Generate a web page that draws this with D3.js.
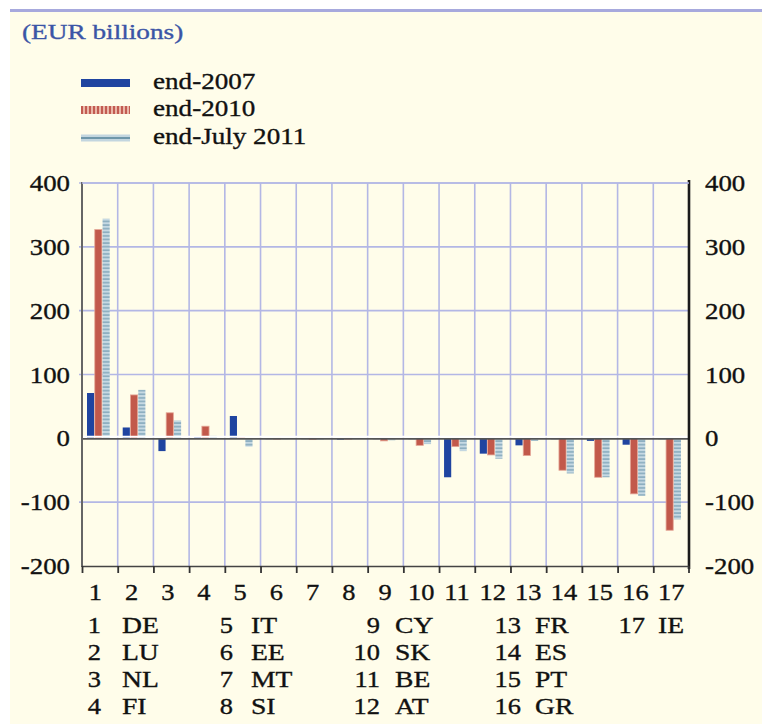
<!DOCTYPE html>
<html><head><meta charset="utf-8">
<script src="https://cdn.jsdelivr.net/npm/d3@7"></script>
<style>html,body{margin:0;padding:0;background:#fff;}svg{display:block;}</style>
</head><body>
<svg id="c" width="762" height="724"></svg>
<script>
const categories = ["1","2","3","4","5","6","7","8","9","10","11","12","13","14","15","16","17"];
const countries = ["DE","LU","NL","FI","IT","EE","MT","SI","CY","SK","BE","AT","FR","ES","PT","GR","IE"];
const seriesNames = ["end-2007","end-2010","end-July 2011"];
const v2007 = [71, 17, -20, 2, 35, -1, -1, -2, -1, -1, -61, -24, -11, -1, -4, -10, 0];
const v2010 = [327, 68, 40, 19, 1, -1, -2, -1, -4, -11, -13, -26, -27, -50, -61, -87, -144];
const v2011 = [344, 76, 28, 4, -13, -1, -2, -1, -3, -9, -20, -32, -4, -55, -61, -90, -127];
const yTicks = [400, 300, 200, 100, 0, -100, -200];

const svg = d3.select("#c");
const FONT = "'Liberation Serif','Times New Roman',serif";
const SX = 1.15;

const defs = svg.append("defs");
const pRed = defs.append("pattern").attr("id","pRed").attr("patternUnits","userSpaceOnUse").attr("width",4).attr("height",4);
pRed.append("rect").attr("width",4).attr("height",4).attr("fill","#eab8a8");
pRed.append("rect").attr("x",1.2).attr("width",1.6).attr("height",4).attr("fill","#b8443c");
const pBlue = defs.append("pattern").attr("id","pBlue").attr("patternUnits","userSpaceOnUse").attr("width",4).attr("height",3.6);
pBlue.append("rect").attr("width",4).attr("height",3.6).attr("fill","#c6d9e3");
pBlue.append("rect").attr("y",1.3).attr("width",4).attr("height",1.1).attr("fill","#6e98ae");

// background
svg.append("rect").attr("x",10).attr("y",11).attr("width",752).attr("height",713).attr("fill","#fffdea");
svg.append("line").attr("x1",10).attr("x2",762).attr("y1",10.5).attr("y2",10.5).attr("stroke","#a7a9dd").attr("stroke-width",3);

function txt(g, x, y, s, size, anchor, color, sx) {
  const c = color || "#111";
  return g.append("text").attr("transform",`translate(${x},${y}) scale(${sx||SX},1)`)
    .attr("text-anchor",anchor||"start").attr("font-family",FONT).attr("font-size",size)
    .attr("fill",c).attr("stroke",c).attr("stroke-width",0.35).text(s);
}

txt(svg, 22, 39, "(EUR billions)", 22, "start", "#3b55a6", 1.24);

// legend
const lg = svg.append("g");
const legY = [83, 110, 138];
lg.append("rect").attr("x",81).attr("y",legY[0]-4).attr("width",49).attr("height",8).attr("fill","#1f44a0");
lg.append("rect").attr("x",81).attr("y",legY[1]-4).attr("width",49).attr("height",8).attr("fill","url(#pRed)");
lg.append("rect").attr("x",81).attr("y",legY[2]-3.5).attr("width",49).attr("height",7).attr("fill","#c3d6df");
lg.append("rect").attr("x",81).attr("y",legY[2]-1).attr("width",49).attr("height",2).attr("fill","#6f97aa");
seriesNames.forEach((n,i)=>txt(lg, 153, legY[i]+6, n, 24, "start", "#111", 1.13));

// scales
const x = d3.scaleBand().domain(categories).range([82, 689]).padding(0);
const x1 = d3.scaleBand().domain(seriesNames).range([5, x.bandwidth()-8]).paddingInner(0.08);
const y = d3.scaleLinear().domain([-200, 400]).range([566, 183]);

// gridlines
const grid = svg.append("g");
yTicks.filter(t=>t!==0 && t!==-200).forEach(t=>{
  grid.append("line").attr("x1",79).attr("x2",689).attr("y1",y(t)).attr("y2",y(t)).attr("stroke","#b3b7e5").attr("stroke-width",1.6);
});
categories.slice(1).forEach(c=>{
  grid.append("line").attr("x1",x(c)).attr("x2",x(c)).attr("y1",183).attr("y2",566).attr("stroke","#b3b7e5").attr("stroke-width",1.6);
});

// bars
const data = categories.map((c,i)=>({c, vals:[v2007[i], v2010[i], v2011[i]]}));
const fills = ["#1f44a0","#c2594b","url(#pBlue)"];
const bars = svg.append("g");
data.forEach(d=>{
  d.vals.forEach((v,j)=>{
    const s = seriesNames[j];
    const y0 = y(Math.max(0,v)), y1v = y(Math.min(0,v));
    bars.append("rect").attr("x", x(d.c)+x1(s)).attr("width", x1.bandwidth())
      .attr("y", y0).attr("height", Math.max(0.8, y1v-y0)).attr("fill", fills[j])
      .attr("stroke", j===1 ? "#e4a696" : "none").attr("stroke-width", j===1?0.8:0);
  });
});

// zero line
svg.append("line").attr("x1",82).attr("x2",689).attr("y1",y(0)-1.6).attr("y2",y(0)-1.6).attr("stroke","#ffffff").attr("stroke-width",2);
svg.append("line").attr("x1",82).attr("x2",689).attr("y1",y(0)+0.5).attr("y2",y(0)+0.5).attr("stroke","#555").attr("stroke-width",1.6);

// axes
svg.append("line").attr("x1",82).attr("x2",82).attr("y1",182).attr("y2",567).attr("stroke","#666").attr("stroke-width",2);
svg.append("line").attr("x1",689).attr("x2",689).attr("y1",180).attr("y2",569).attr("stroke","#1a1a1a").attr("stroke-width",2.6);
svg.append("line").attr("x1",82).attr("x2",689).attr("y1",183).attr("y2",183).attr("stroke","#b3b7e5").attr("stroke-width",1.6);
svg.append("line").attr("x1",82).attr("x2",689).attr("y1",566.5).attr("y2",566.5).attr("stroke","#444").attr("stroke-width",1.6);
categories.forEach(c=>{
  svg.append("line").attr("x1",x(c)+0.5).attr("x2",x(c)+0.5).attr("y1",566).attr("y2",573).attr("stroke","#333").attr("stroke-width",1.8);
});
svg.append("line").attr("x1",689).attr("x2",689).attr("y1",566).attr("y2",573).attr("stroke","#333").attr("stroke-width",1.8);

// y labels
const yl = svg.append("g");
yTicks.forEach(t=>{
  txt(yl, 70, y(t)+8, String(t), 24, "end", "#111", 1.12);
  txt(yl, 705, y(t)+8, String(t), 24, "start", "#111", 1.12);
});

// x labels
const xl = svg.append("g");
categories.forEach((c,i)=>txt(xl, x(c)+x.bandwidth()/2 - Math.max(0, 4.5 - i*0.5), 600, c, 23, "middle"));

// country key
const numRight = [101, 233, 380, 521, 645];
const codeLeft = [122, 251, 395, 535, 658];
const rowY = [633, 660, 687, 714];
const key = svg.append("g");
countries.forEach((code,i)=>{
  const col = Math.floor(i/4), row = i%4;
  txt(key, numRight[col], rowY[row], categories[i], 23, "end", "#111", 1.15);
  txt(key, codeLeft[col], rowY[row], code, 23, "start", "#111", 1.2);
});
</script>
</body></html>
